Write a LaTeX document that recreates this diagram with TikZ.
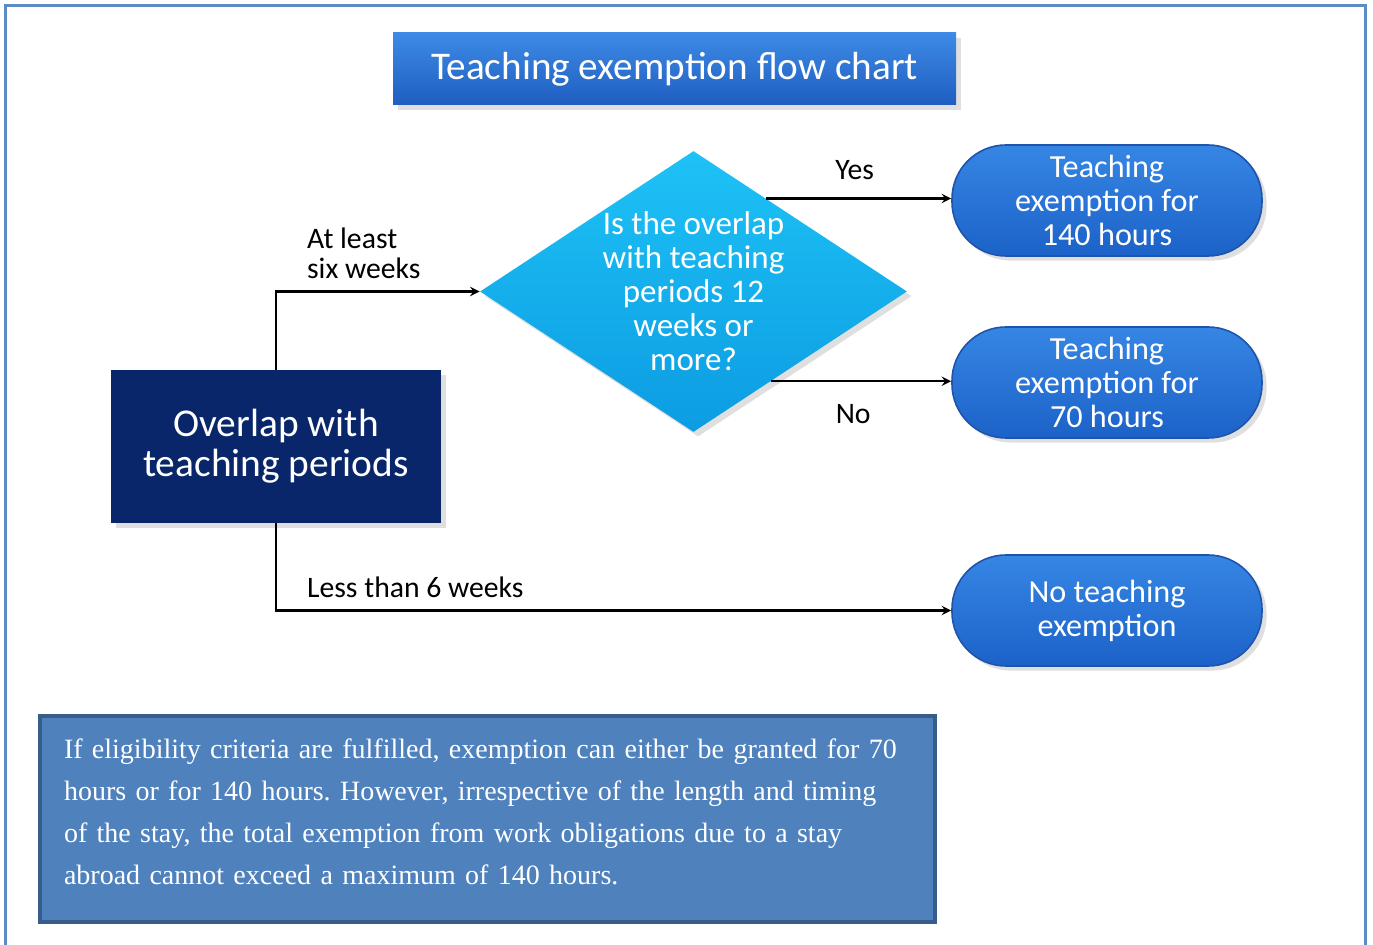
\documentclass[tikz,border=0pt]{standalone}
\usepackage{fontspec}
\setmainfont{Liberation Serif}
\newfontfamily\calibri{Carlito}
\usetikzlibrary{shapes.geometric, positioning, calc, shadows}

\definecolor{framecol}{RGB}{91,140,200}
\definecolor{titletop}{RGB}{62,138,230}
\definecolor{titlebot}{RGB}{30,94,192}
\definecolor{navy}{RGB}{10,38,106}
\definecolor{cyantop}{RGB}{30,194,246}
\definecolor{cyanbot}{RGB}{12,156,226}
\definecolor{pilltop}{RGB}{54,134,228}
\definecolor{pillbot}{RGB}{28,98,200}
\definecolor{pillline}{RGB}{32,84,170}
\definecolor{notefill}{RGB}{79,129,189}
\definecolor{noteline}{RGB}{56,93,138}

\begin{document}
\frenchspacing
\begin{tikzpicture} [x=0.5pt, y=-0.5pt,
            on grid,
            every node/.style={inner sep=0pt},
            head/.style={rectangle, top color=titletop, bottom color=titlebot,
                minimum width=281.5pt, minimum height=36pt, text=white,
                font=\calibri\fontsize{19.6}{22}\selectfont,
                drop shadow={opacity=.25}},
            start/.style={rectangle, fill=navy, minimum width=165pt,
                minimum height=76.5pt, text=white, align=center,
                font=\calibri\fontsize{19.7}{20}\selectfont,
                drop shadow={opacity=.25}},
            decide/.style={diamond, top color=cyantop, bottom color=cyanbot,
                minimum width=213.5pt, minimum height=140.5pt,
                drop shadow={opacity=.25}},
            decidetext/.style={text=white, align=center,
                font=\calibri\fontsize{16.5}{17}\selectfont},
            outcome/.style={rectangle, rounded corners=27pt,
                top color=pilltop, bottom color=pillbot, draw=pillline,
                line width=.8pt, minimum width=155pt, minimum height=55.5pt,
                text=white, align=center,
                font=\calibri\fontsize{16.1}{17}\selectfont,
                drop shadow={opacity=.25}},
            notebox/.style={rectangle, fill=notefill, draw=noteline,
                line width=2pt, minimum width=447.5pt, minimum height=103pt,
                text width=423.5pt, inner xsep=12pt, align=left, text=white,
                font=\frenchspacing\fontsize{14}{21}\selectfont},
            lbl/.style={font=\calibri\fontsize{14.85}{15}\selectfont, align=left},
            arr/.style={-stealth, line width=1.1pt}]

        \useasboundingbox (0,0) rectangle (1373,945);

        % Frame
        \draw [framecol, line width=1.5pt] (5,945) -- (5,6) -- (1365,6) -- (1365,945);

        % Title
        \node (title) [head] at (674.5,69) {Teaching exemption flow chart};

        % Overlap with teaching periods
        \node (ovl) [start] at (276,446.5) {Overlap with\\teaching periods};

        % Decision
        \node (q) [decide] at (693.5,291.5) {};
        \node (qtxt) [decidetext] at (q.center)
            {Is the overlap\\with teaching\\periods 12\\weeks or\\more?};
        \coordinate (qyes) at ($(q.north)!.34!(q.east)$);
        \coordinate (qno) at ($(q.south)!.363!(q.east)$);

        % Outcomes
        \node (p140) [outcome] at (1107,200.5) {Teaching\\exemption for\\140 hours};
        \node (p70) [outcome, below = 91pt of p140] {Teaching\\exemption for\\70 hours};
        \node (pnone) [outcome, below = 114pt of p70] {No teaching\\exemption};

        % Arrows
        \draw [arr] (ovl.north) |- node [lbl, pos=.5, anchor=south west,
            xshift=15pt, yshift=6pt] (lsix) {At least\\six weeks} (q.west);
        \draw [arr] (ovl.south) |- node [lbl, pos=.5, anchor=south west,
            xshift=15pt, yshift=6pt] (lless) {Less than 6 weeks} (pnone.west);
        \draw [arr] (qyes) -- node [lbl, anchor=south, xshift=-2pt, yshift=9pt] (lyes) {Yes}
            (qyes -| p140.west);
        \draw [arr] (qno) -- node [lbl, anchor=north, xshift=-4pt, yshift=-11pt] (lno) {No}
            (qno -| p70.west);

        % Note
        \node (note) [notebox] at (487.5,819)
            {If eligibility criteria are fulfilled, exemption can either be granted for 70\\
             hours or for 140 hours. However, irrespective of the length and timing\\
             of the stay, the total exemption from work obligations due to a stay\\
             abroad cannot exceed a maximum of 140 hours.\rule[-7pt]{0pt}{0pt}};
\end{tikzpicture}
\end{document}
